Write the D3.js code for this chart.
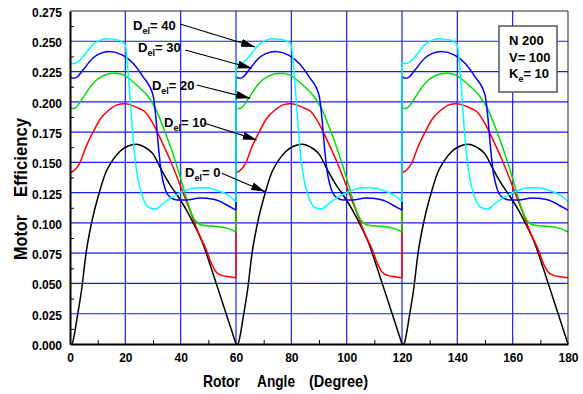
<!DOCTYPE html>
<html><head><meta charset="utf-8">
<script src="https://cdn.jsdelivr.net/npm/d3@7"></script>
<style>
body{margin:0;background:#fff}
svg{display:block}
text{font-family:"Liberation Sans",Arial,Helvetica,sans-serif;font-weight:bold;fill:#000}
</style>
</head><body>
<svg id="chart" width="583" height="394"></svg>
<script>
// ---------- data ----------
const xTickValues = [0, 20, 40, 60, 80, 100, 120, 140, 160, 180];
const yTickValues = [0, 0.025, 0.05, 0.075, 0.1, 0.125, 0.15, 0.175, 0.2, 0.225, 0.25, 0.275];
const xMinorTicks = [10, 30, 50, 70, 90, 110, 130, 150, 170];
const yMinorTicks = [0.0125, 0.0375, 0.0625, 0.0875, 0.1125, 0.1375, 0.1625, 0.1875, 0.2125, 0.2375, 0.2625];
const periodStarts = [0, 60, 120];          // the response repeats every 60 degrees
const seriesLabels = ["0", "10", "20", "30", "40"];
const seriesColors = ["#000000", "#ff0000", "#00e000", "#0000ff", "#00ffff"];

// one 60-degree period of each curve: [angle within period, efficiency]
const del0 = [[0,0],[0.7,0],[1.5,0.007],[2.6,0.022],[4.2,0.045],[5.8,0.075],[7.8,0.100],[10.7,0.126],[13,0.142],[15.5,0.152],[18,0.159],[21,0.1635],[24,0.165],[27,0.1625],[30,0.157],[33,0.144],[36,0.132],[39,0.122],[42,0.111],[45,0.098],[48,0.083],[51,0.063],[54,0.042],[57,0.021],[60,0]];
const del10 = [[0,0.142],[1,0.1425],[2,0.1445],[3.4,0.149],[5.8,0.163],[8.8,0.177],[11,0.186],[14,0.193],[17,0.1975],[19.5,0.1985],[22,0.1975],[24.5,0.195],[27,0.192],[30,0.182],[33,0.168],[36,0.153],[39,0.136],[41,0.124],[43.4,0.110],[46.4,0.092],[49.4,0.077],[51.2,0.066],[53,0.059],[55,0.0565],[57.5,0.0555],[60,0.0548]];
const del20 = [[0,0.195],[1,0.1945],[2.2,0.1955],[4.6,0.203],[8.2,0.215],[12,0.2215],[16,0.2235],[19,0.2225],[22,0.218],[25,0.212],[28,0.205],[31,0.194],[33.7,0.179],[36,0.165],[38.6,0.147],[41,0.129],[43.4,0.111],[45.2,0.102],[48,0.098],[53,0.097],[57,0.0955],[60,0.0925]];
const del30 = [[0,0.221],[1,0.2195],[2.2,0.220],[4.6,0.226],[8.2,0.236],[11,0.240],[14.2,0.2415],[19,0.2386],[22.7,0.232],[26.3,0.221],[30,0.2056],[31,0.188],[32,0.162],[33,0.142],[34,0.131],[36,0.1216],[38.6,0.119],[42,0.119],[47,0.1205],[51.8,0.1195],[54,0.118],[56.6,0.1148],[60,0.1105]];
const del40 = [[0,0.233],[1,0.2315],[2.2,0.232],[4.6,0.237],[8.2,0.247],[10.5,0.2505],[13,0.252],[16,0.2515],[18,0.2505],[20,0.247],[20.6,0.235],[21.4,0.213],[22.5,0.178],[23.4,0.155],[24.5,0.137],[26.3,0.121],[28.7,0.1125],[31,0.1115],[33.5,0.116],[36.1,0.120],[41,0.126],[45.8,0.129],[49.4,0.129],[53,0.127],[57.8,0.122],[60,0.1175]];
const periods = [del0, del10, del20, del30, del40];

// annotation: label anchor, arrow start, arrow tip (data coordinates)
const annLabelX = [41.6, 34.0, 29.6, 24.6, 22.8];
const annLabelY = [0.1379, 0.1792, 0.2098, 0.2411, 0.2593];
const annFromX = [54.9, 48.4, 45.8, 41.6, 39.8];
const annFromY = [0.1410, 0.1825, 0.2139, 0.2428, 0.2643];
const annToX = [70.5, 67.5, 65.1, 65.7, 66.9];
const annToY = [0.1258, 0.1685, 0.2029, 0.2277, 0.2453];

const boxLines = ["N 200", "V= 100", "K|e|= 10"];

// ---------- layout ----------
const svg = d3.select("#chart");
const x = d3.scaleLinear().domain([0, 180]).range([70, 568]);
const y = d3.scaleLinear().domain([0, 0.275]).range([344, 11]);

// grid
const grid = svg.append("g");
grid.selectAll("line.v").data(xTickValues.slice(1, -1)).join("line")
  .attr("x1", d => x(d)).attr("x2", d => x(d)).attr("y1", y(0)).attr("y2", y(0.275))
  .attr("stroke", "#1a1aff").attr("stroke-width", 1.2);
grid.selectAll("line.h").data(yTickValues.slice(1, -1)).join("line")
  .attr("y1", d => y(d)).attr("y2", d => y(d)).attr("x1", x(0)).attr("x2", x(180))
  .attr("stroke", "#1a1aff").attr("stroke-width", 1.2);

// curves
const line = d3.line().x(d => x(d[0])).y(d => y(d[1])).curve(d3.curveMonotoneX);
const straight = d3.line().x(d => x(d[0])).y(d => y(d[1]));
periods.forEach((per, i) => {
  const g = svg.append("g").attr("fill", "none").attr("stroke", seriesColors[i])
    .attr("stroke-width", 1.5).attr("stroke-linejoin", "round");
  periodStarts.forEach((p0, k) => {
    g.append("path").attr("d", line(per.map(d => [d[0] + p0, d[1]])));
    if (k < periodStarts.length - 1) {
      const end = per[per.length - 1], start = per[0];
      const xj = periodStarts[k + 1];
      if (end[1] !== start[1])
        g.append("path").attr("d", straight([[xj, end[1]], [xj, start[1]]]));
    }
  });
});

// frame
svg.append("line").attr("x1", x(0)).attr("x2", x(180)).attr("y1", y(0.275)).attr("y2", y(0.275)).attr("stroke", "#222").attr("stroke-width", 1);
svg.append("line").attr("x1", x(180)).attr("x2", x(180)).attr("y1", y(0)).attr("y2", y(0.275)).attr("stroke", "#222").attr("stroke-width", 1);

// axes
const xAxis = d3.axisBottom(x).tickValues(xTickValues).tickSize(0).tickPadding(9).tickFormat(d3.format("d"));
const gx = svg.append("g").attr("transform", `translate(0,${y(0)})`).call(xAxis);
gx.select(".domain").attr("stroke", "#000").attr("stroke-width", 2);
gx.selectAll("text").attr("font-size", 12).attr("font-family", null);

const xMinor = d3.axisBottom(x).tickValues(xMinorTicks).tickSize(-4).tickFormat("");
const gxm = svg.append("g").attr("transform", `translate(0,${y(0)})`).call(xMinor);
gxm.select(".domain").remove();
gxm.selectAll("line").attr("stroke", "#000").attr("stroke-width", 1);

const yAxis = d3.axisLeft(y).tickValues(yTickValues).tickSize(0).tickPadding(8).tickFormat(d3.format(".3f"));
const gy = svg.append("g").attr("transform", `translate(${x(0)},0)`).call(yAxis);
gy.select(".domain").attr("stroke", "#000").attr("stroke-width", 2);
gy.selectAll("text").attr("font-size", 12).attr("font-family", null).attr("dy", "0.45em");

const yMinor = d3.axisLeft(y).tickValues(yMinorTicks).tickSize(-4).tickFormat("");
const gym = svg.append("g").attr("transform", `translate(${x(0)},0)`).call(yMinor);
gym.select(".domain").remove();
gym.selectAll("line").attr("stroke", "#000").attr("stroke-width", 1);

// axis titles
const xTitleWords = [["Rotor", 203, 37], ["Angle", 257, 38], ["(Degree)", 309, 59]];
xTitleWords.forEach(w => {
  svg.append("text").attr("x", w[1]).attr("y", 387).attr("font-size", 17)
    .attr("textLength", w[2]).attr("lengthAdjust", "spacingAndGlyphs").text(w[0]);
});
const yTitleWords = [["Motor", 237.5, 45], ["Efficiency", 157.5, 79]];
yTitleWords.forEach(w => {
  svg.append("text").attr("transform", `translate(27,${w[1]}) rotate(-90)`)
    .attr("text-anchor", "middle").attr("font-size", 18)
    .attr("textLength", w[2]).attr("lengthAdjust", "spacingAndGlyphs").text(w[0]);
});

// legend box
svg.append("rect").attr("x", 499).attr("y", 26).attr("width", 58).attr("height", 66)
  .attr("fill", "#fff").attr("stroke", "#555").attr("stroke-width", 1.5);
boxLines.forEach((t, i) => {
  const parts = t.split("|");
  const tx = svg.append("text").attr("x", 509).attr("y", 45 + i * 16.5).attr("font-size", 13);
  tx.append("tspan").text(parts[0]);
  if (parts.length > 1) {
    tx.append("tspan").attr("font-size", 9).attr("dy", 4).text(parts[1]);
    tx.append("tspan").attr("dy", -4).text(parts[2]);
  }
});

// annotations
svg.append("defs").append("marker").attr("id", "arr")
  .attr("markerUnits", "userSpaceOnUse").attr("markerWidth", 14).attr("markerHeight", 8)
  .attr("refX", 14).attr("refY", 4).attr("orient", "auto")
  .append("path").attr("d", "M0,0L14,4L0,8Z").attr("fill", "#000");
seriesLabels.forEach((lab, i) => {
  svg.append("line")
    .attr("x1", x(annFromX[i])).attr("y1", y(annFromY[i]))
    .attr("x2", x(annToX[i])).attr("y2", y(annToY[i]))
    .attr("stroke", "#000").attr("stroke-width", 1.2).attr("marker-end", "url(#arr)");
  const t = svg.append("text").attr("x", x(annLabelX[i])).attr("y", y(annLabelY[i])).attr("font-size", 13);
  t.append("tspan").text("D");
  t.append("tspan").attr("font-size", 9).attr("dy", 4).text("el");
  t.append("tspan").attr("dy", -4).text("= " + lab);
});
</script>
</body></html>
